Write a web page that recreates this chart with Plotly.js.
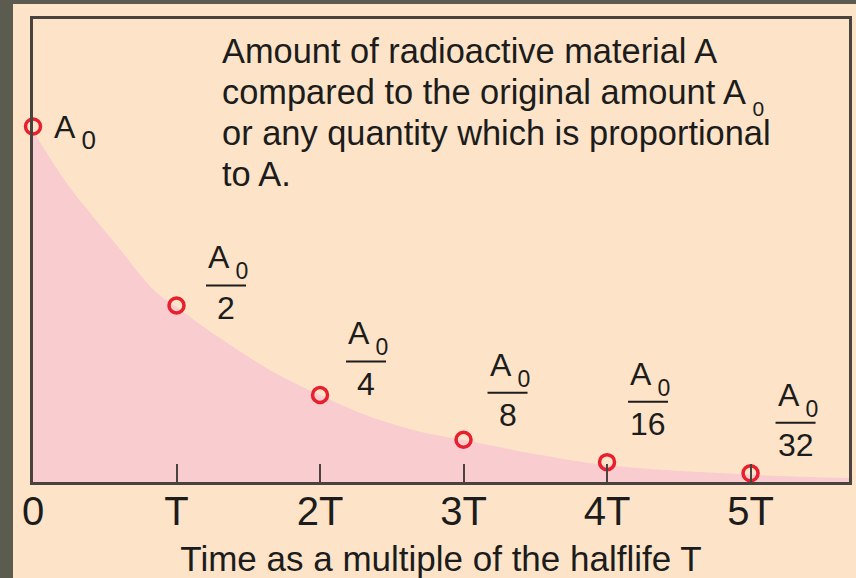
<!DOCTYPE html>
<html>
<head>
<meta charset="utf-8">
<script src="https://cdn.plot.ly/plotly-3.0.1.min.js"></script>
<style>
  html, body { margin: 0; padding: 0; background: #5b5b50; width: 856px; height: 578px; overflow: hidden; }
  #chart { position: absolute; left: 13px; top: 4px; width: 843px; height: 574px; }
</style>
</head>
<body>
<div id="chart"></div>
<script>
// Radioactive decay: amount remaining after whole numbers of half-lives
const halfLives = [0, 1, 2, 3, 4, 5];
const tickText = ['0', 'T', '2T', '3T', '4T', '5T'];
const amount = [1, 0.5, 0.25, 0.125, 0.0625, 0.03125];
const denominators = ['2', '4', '8', '16', '32'];

// Continuous decay curve (shaded area), sampled along its edge
const curveT = [0, 0.14, 0.26, 0.38, 0.61, 0.84, 1.0, 1.3, 1.65, 2.0, 2.35, 2.7, 3.0, 3.5, 4.0, 5.03, 5.69];
const curveA = [0.988, 0.898, 0.828, 0.767, 0.655, 0.544, 0.496, 0.410, 0.320, 0.25, 0.189, 0.147, 0.124, 0.085, 0.054, 0.027, 0.018];

// subscript "0" set well below the baseline
const sub0 = (px) => '<sub> <sub><span style="font-size:' + px + 'px">0</span></sub></sub>';

const descLines = [
  'Amount of radioactive material A',
  'compared to the original amount A' + sub0(21),
  'or any quantity which is proportional',
  'to A.'
];
const axisTitle = 'Time as a multiple of the halflife T';

const FONT = 'Liberation Sans, Arial, Helvetica, sans-serif';
const INK = '#1c1c1c';
const FRAME = '#48433f';
const RED = '#e8202e';

// pixel offsets (right, down) of each fraction bar centre from its point
const fracOffsets = [[49.5, -20], [46, -33.5], [44, -47], [41, -60.5], [45, -50.5]];
const descTops = [0.9758, 0.8872, 0.7987, 0.7101];

const traces = [
  {
    x: curveT, y: curveA,
    type: 'scatter', mode: 'lines',
    line: { width: 0, shape: 'spline', color: '#f9ccd0' },
    fill: 'tozeroy', fillcolor: '#f9ccd0',
    hoverinfo: 'skip', showlegend: false
  },
  {
    x: halfLives, y: amount,
    type: 'scatter', mode: 'markers',
    marker: { symbol: 'circle-open', size: 15, color: RED, line: { width: 3.5, color: RED } },
    cliponaxis: false, showlegend: false
  }
];

const annotations = [];
const shapes = [];

descLines.forEach((t, i) => {
  annotations.push({
    xref: 'paper', yref: 'paper', x: 0.2292, y: descTops[i],
    xanchor: 'left', yanchor: 'top', align: 'left', showarrow: false,
    text: t, font: { family: FONT, size: 34.4, color: INK }
  });
});

// A0 beside the starting point
annotations.push({
  x: halfLives[0], y: amount[0], xref: 'x', yref: 'y',
  xanchor: 'left', yanchor: 'top', xshift: 19, yshift: 19.6, showarrow: false,
  text: 'A' + sub0(26), font: { family: FONT, size: 32, color: INK }
});

// A0 / n fractions next to each later point
denominators.forEach((d, k) => {
  const i = k + 1;
  const dx = fracOffsets[k][0], dy = fracOffsets[k][1];
  annotations.push({
    x: halfLives[i], y: amount[i], xref: 'x', yref: 'y',
    xanchor: 'left', yanchor: 'top', xshift: dx - 20, yshift: 48 - dy, showarrow: false,
    text: 'A' + sub0(23), font: { family: FONT, size: 32, color: INK }
  });
  annotations.push({
    x: halfLives[i], y: amount[i], xref: 'x', yref: 'y',
    xanchor: 'center', yanchor: 'middle', xshift: dx, yshift: -(dy + 22.5), showarrow: false,
    text: d, font: { family: FONT, size: 32, color: INK }
  });
  shapes.push({
    type: 'line', xref: 'x', yref: 'y',
    xsizemode: 'pixel', xanchor: halfLives[i], x0: dx - 20, x1: dx + 20,
    ysizemode: 'pixel', yanchor: amount[i], y0: -dy, y1: -dy,
    line: { color: INK, width: 2 }
  });
});

const layout = {
  width: 843, height: 574,
  margin: { l: 20, r: 7, t: 15, b: 96, pad: 0 },
  paper_bgcolor: '#fde4c8', plot_bgcolor: '#fde4c8',
  showlegend: false,
  font: { family: FONT, color: INK },
  xaxis: {
    range: [0, 5.686], fixedrange: true,
    showline: true, mirror: true, linewidth: 3, linecolor: FRAME,
    ticks: 'inside', ticklen: 18, tickwidth: 2, tickcolor: FRAME,
    tickvals: halfLives, ticktext: tickText,
    tickfont: { family: FONT, size: 40, color: INK },
    ticklabelstandoff: -8,
    showgrid: false, zeroline: false,
    title: { text: axisTitle, font: { family: FONT, size: 35, color: INK }, standoff: 16 }
  },
  yaxis: {
    range: [0.007, 1.30], fixedrange: true,
    showline: true, mirror: true, linewidth: 3, linecolor: FRAME,
    ticks: '', showticklabels: false, showgrid: false, zeroline: false
  },
  annotations: annotations,
  shapes: shapes
};

Plotly.newPlot('chart', traces, layout, { displayModeBar: false, staticPlot: true });
</script>
</body>
</html>
